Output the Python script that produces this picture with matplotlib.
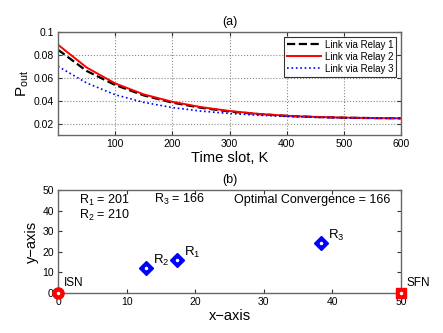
import numpy as np
import matplotlib
matplotlib.use("Agg")
import matplotlib.pyplot as plt

plt.rcParams['font.family'] = ['Liberation Sans', 'DejaVu Sans']
plt.rcParams['mathtext.fontset'] = 'custom'
plt.rcParams['mathtext.rm'] = 'Liberation Sans'
plt.rcParams['mathtext.it'] = 'Liberation Sans'

# (a) outage probability vs time slot
K = [0, 50, 100, 150, 200, 250, 300, 350, 400, 450, 500, 550, 600]
relay1 = [0.0845, 0.0660, 0.0537, 0.0446, 0.0383, 0.0338, 0.0305, 0.0283, 0.0267, 0.0257, 0.0251, 0.0248, 0.0246]
relay2 = [0.0889, 0.0690, 0.0551, 0.0455, 0.0390, 0.0344, 0.0310, 0.0285, 0.0268, 0.0258, 0.0252, 0.0248, 0.0246]
relay3 = [0.0700, 0.0555, 0.0452, 0.0385, 0.0340, 0.0309, 0.0288, 0.0273, 0.0262, 0.0255, 0.0250, 0.0247, 0.0245]

# (b) node positions
src = (0, 0)
dst = (50, 0)
relay_x = [17.3, 12.9, 38.3]
relay_y = [16.0, 12.0, 24.5]
relay_names = ['R$_1$', 'R$_2$', 'R$_3$']

fig = plt.figure(figsize=(4.43, 3.33), dpi=100)
ax1 = fig.add_axes([58/443, 1-135/333, 343/443, 103/333])
ax2 = fig.add_axes([58/443, 1-293/333, 343/443, 103/333])

for ax in (ax1, ax2):
    ax.tick_params(direction='in', top=True, right=True, labelsize=7.5, length=3, pad=3,
                   color='#333333')
    for s in ax.spines.values():
        s.set_color('#666666')
        s.set_linewidth(1.0)

ax1.plot(K, relay1, '--', color='black', lw=1.6, label='Link via Relay 1')
ax1.plot(K, relay2, '-', color='red', lw=1.4, label='Link via Relay 2')
ax1.plot(K, relay3, ':', color='blue', lw=1.2, label='Link via Relay 3')
ax1.set_xlim(0, 600)
ax1.set_ylim(0.01, 0.1)
ax1.set_xticks([100, 200, 300, 400, 500, 600])
ax1.set_yticks([0.02, 0.04, 0.06, 0.08, 0.1])
ax1.set_yticklabels(['0.02', '0.04', '0.06', '0.08', '0.1'])
ax1.grid(True, linestyle=':', color='#888888', lw=0.8)
ax1.set_title('(a)', fontsize=9, pad=5)
ax1.set_xlabel('Time slot, K', fontsize=10.5, labelpad=1)
ax1.set_ylabel('P$_{\\rm out}$', fontsize=11, labelpad=2)
leg = ax1.legend(loc='upper right', fontsize=7, fancybox=False, edgecolor='black',
                 handlelength=3.5, borderpad=0.3, labelspacing=0.2, handletextpad=0.4)
leg.get_frame().set_linewidth(0.8)

ax2.plot(src[0], src[1], 'o', ms=8, color='red', clip_on=False, zorder=5)
ax2.plot(dst[0], dst[1], 's', ms=7.5, color='red', clip_on=False, zorder=5)
ax2.plot(relay_x, relay_y, 'D', ms=7, color='blue', ls='none', zorder=5)
ax2.plot([src[0], dst[0]] + relay_x, [src[1], dst[1]] + relay_y, 'o', ms=1.5,
         color='white', ls='none', clip_on=False, zorder=6)
for x, y, n in zip(relay_x, relay_y, relay_names):
    ax2.text(x + 1.0, y + 2.0, n, fontsize=9.5)
ax2.text(0.8, 3.5, 'ISN', fontsize=8.5)
ax2.text(50.8, 3.5, 'SFN', fontsize=8.5)
ax2.text(3, 48.5, 'R$_1$ = 201\nR$_2$ = 210', fontsize=9, va='top', linespacing=0.95)
ax2.text(14, 43.8, 'R$_3$ = 166', fontsize=9)
ax2.text(25.6, 43.8, 'Optimal Convergence = 166', fontsize=9)
ax2.set_xlim(0, 50)
ax2.set_ylim(0, 50)
ax2.set_xticks([0, 10, 20, 30, 40, 50])
ax2.set_yticks([0, 10, 20, 30, 40, 50])
ax2.set_title('(b)', fontsize=9, pad=5)
ax2.set_xlabel('x\u2212axis', fontsize=10.5, labelpad=1)
ax2.set_ylabel('y\u2212axis', fontsize=10.5, labelpad=2)

fig.savefig('out.png', dpi=100)
